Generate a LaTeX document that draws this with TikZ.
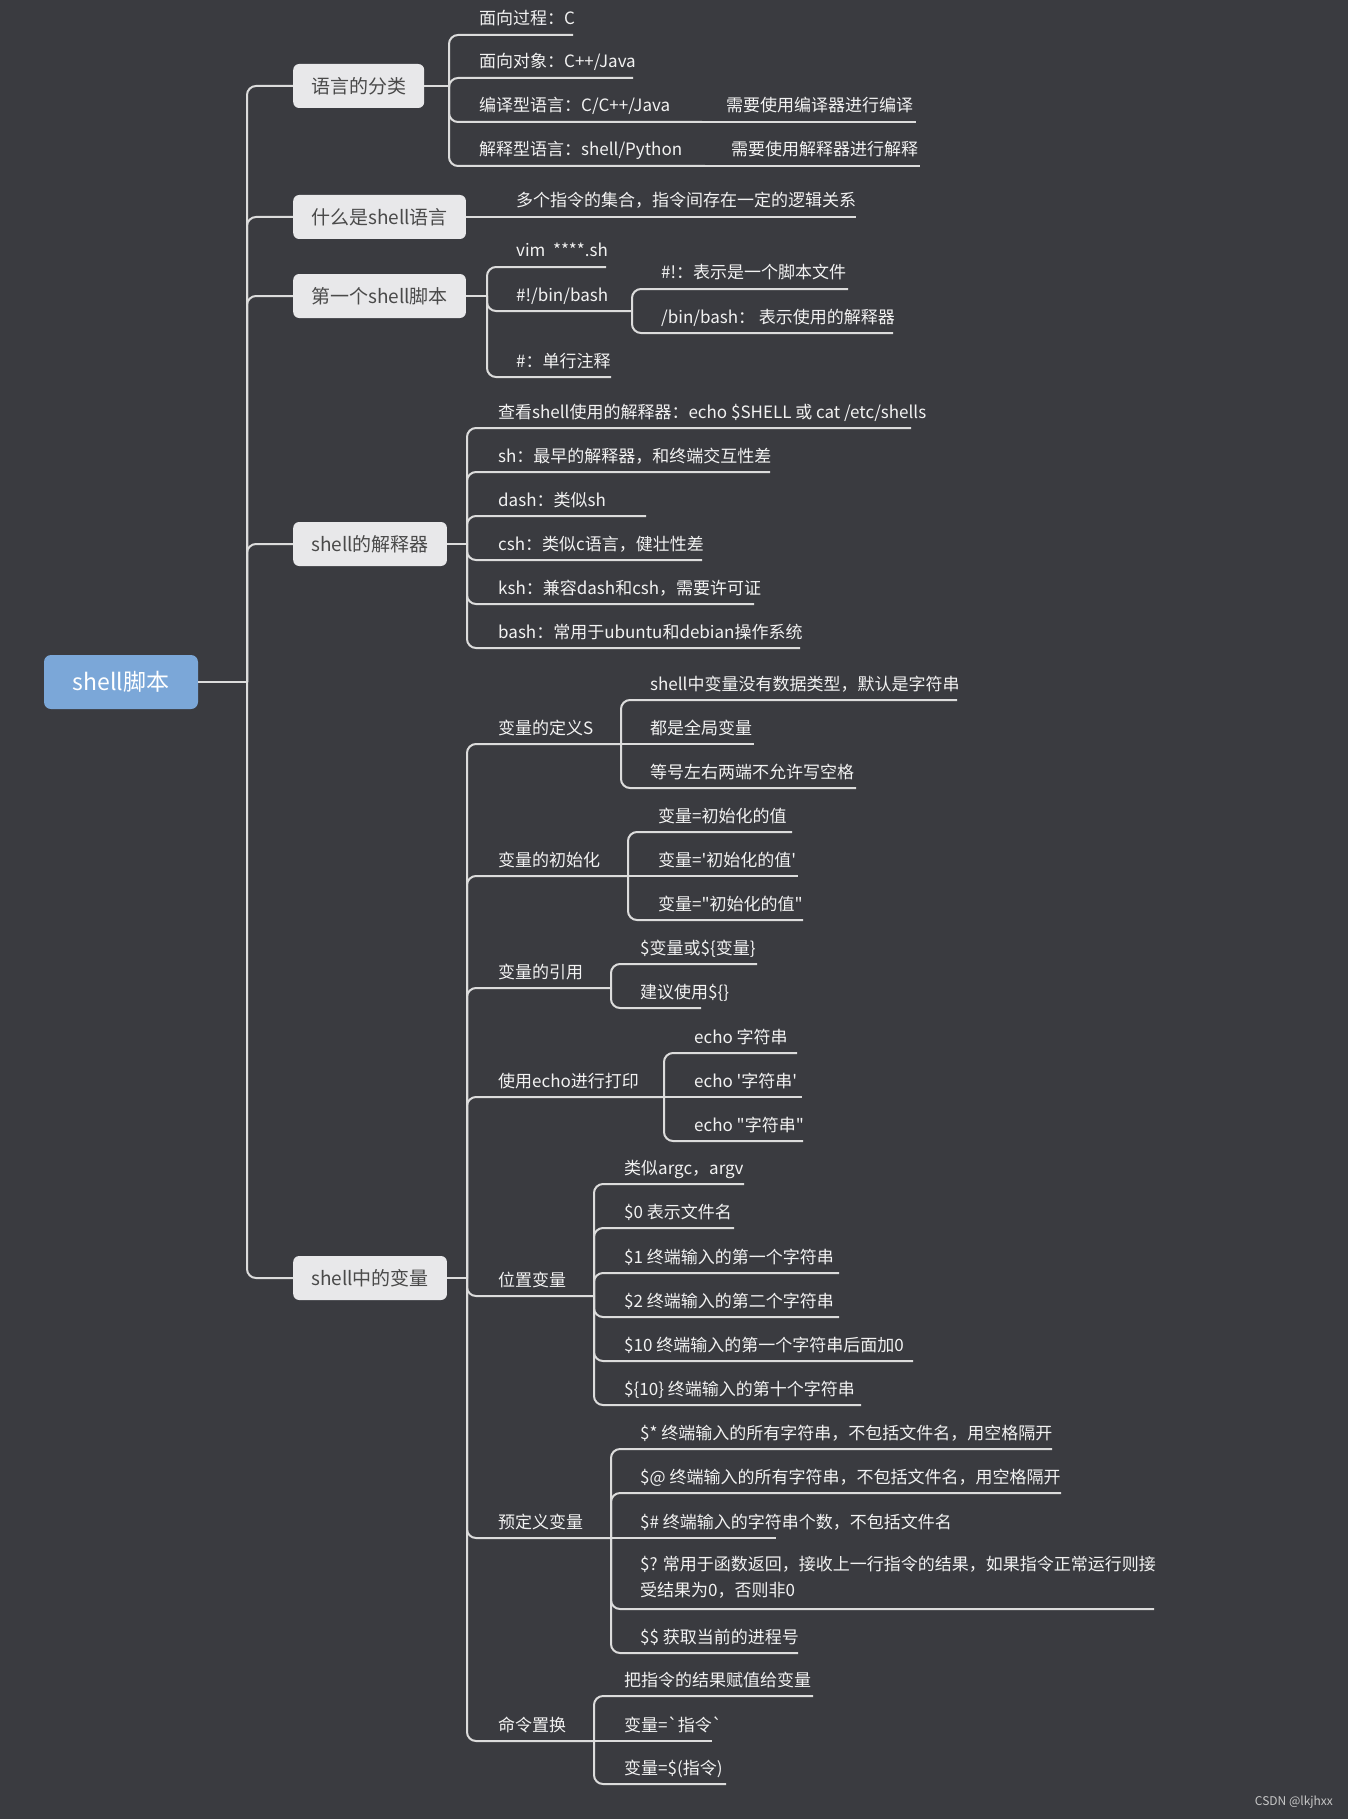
\documentclass[tikz,border=0pt]{standalone}
\usepackage{fontspec}
\newfontfamily\cjk{Noto Sans CJK SC}
\definecolor{bg}{HTML}{3A3B40}
\definecolor{linec}{HTML}{DCDCDC}
\definecolor{leafc}{HTML}{F2F2F2}
\definecolor{boxc}{HTML}{E8E8EA}
\definecolor{boxtext}{HTML}{4A4A4A}
\definecolor{rootc}{HTML}{7BA7D8}
\definecolor{markc}{HTML}{C8C8C8}
\newcommand\lf[5]{\node[leaf] (#1) at (#2,{#3-10}) {#5};\coordinate (e#1) at (#4,#3);}
\tikzset{
 conn/.style={draw=linec, line width=2pt, rounded corners=9pt},
 leaf/.style={anchor=base west, inner sep=0pt, text=leafc, font=\cjk\fontsize{17}{21}\selectfont},
 topic/.style={anchor=west, fill=boxc, text=boxtext, rounded corners=6pt, minimum height=44pt, inner xsep=18pt, inner ysep=0pt, font=\cjk\fontsize{19}{23}\selectfont},
 rootbox/.style={fill=rootc, text=white, rounded corners=7pt, minimum width=154pt, minimum height=54pt, font=\cjk\fontsize{23}{27}\selectfont},
}
\begin{document}
\begin{tikzpicture}[x=1pt,y=-1pt]
\useasboundingbox (0,0) rectangle (1348,1819);
\fill[bg] (0,0) rectangle (1348,1819);

% root and main topics
\node[rootbox] (root) at (121,682) {shell脚本};
\coordinate (tr) at (247,682);
\node[topic] (t1) at (293,86) {语言的分类};
\node[topic] (t2) at (293,217) {什么是shell语言};
\node[topic] (t3) at (293,296) {第一个shell脚本};
\node[topic] (t4) at (293,544) {shell的解释器};
\node[topic] (t5) at (293,1278) {shell中的变量};
\draw[conn] (root.east) -- (tr);
\foreach \t in {t1,t2,t3,t4,t5} \draw[conn] (tr) |- (\t.west);

% topic 1
\coordinate (b1) at (449,86);
\lf{l11}{479}{35}{573}{面向过程：C}
\lf{l12}{479}{78}{633}{面向对象：C++/Java}
\lf{l13}{479}{122}{702}{编译型语言：C/C++/Java}
\lf{l13a}{726}{122}{916}{需要使用编译器进行编译}
\lf{l14}{479}{166}{705}{解释型语言：shell/Python}
\lf{l14a}{731}{166}{920}{需要使用解释器进行解释}
\draw[conn] (t1.east) -- (b1);
\foreach \c in {l11,l12,l13,l14} \draw[conn] (b1) |- (e\c);
\draw[conn] (el13) -- (el13a);
\draw[conn] (el14) -- (el14a);

% topic 2
\lf{l21}{516}{217}{856}{多个指令的集合，指令间存在一定的逻辑关系}
\draw[conn] (t2.east) -- (el21);

% topic 3
\coordinate (b3) at (487,296);
\lf{l31}{516}{267}{606}{vim\ \ ****.sh}
\lf{l32}{516}{311}{632}{\#!/bin/bash}
\lf{l321}{661}{289}{848}{\#!：表示是一个脚本文件}
\lf{l322}{661}{333}{893}{/bin/bash：\ 表示使用的解释器}
\lf{l33}{516}{377}{611}{\#：单行注释}
\draw[conn] (t3.east) -- (b3);
\foreach \c in {l31,l32,l33} \draw[conn] (b3) |- (e\c);
\foreach \c in {l321,l322} \draw[conn] (el32) |- (e\c);

% topic 4
\coordinate (b4) at (467,544);
\lf{l41}{498}{428}{911}{查看shell使用的解释器：echo \$SHELL 或 cat /etc/shells}
\lf{l42}{498}{472}{770}{sh：最早的解释器，和终端交互性差}
\lf{l43}{498}{516}{646}{dash：类似sh}
\lf{l44}{498}{560}{702}{csh：类似c语言，健壮性差}
\lf{l45}{498}{604}{754}{ksh：兼容dash和csh，需要许可证}
\lf{l46}{498}{648}{800}{bash：常用于ubuntu和debian操作系统}
\draw[conn] (t4.east) -- (b4);
\foreach \c in {l41,l42,l43,l44,l45,l46} \draw[conn] (b4) |- (e\c);

% topic 5
\coordinate (b5) at (467,1278);
\draw[conn] (t5.east) -- (b5);
\lf{s1}{498}{744}{621}{变量的定义S}
\lf{s2}{498}{876}{628}{变量的初始化}
\lf{s3}{498}{988}{611}{变量的引用}
\lf{s4}{498}{1097}{664}{使用echo进行打印}
\lf{s5}{498}{1296}{594}{位置变量}
\lf{s6}{498}{1538}{611}{预定义变量}
\lf{s7}{498}{1741}{594}{命令置换}
\foreach \c in {s1,s2,s3,s4,s5,s6,s7} \draw[conn] (b5) |- (e\c);

\lf{v11}{650}{700}{957}{shell中变量没有数据类型，默认是字符串}
\lf{v12}{650}{744}{754}{都是全局变量}
\lf{v13}{650}{788}{856}{等号左右两端不允许写空格}
\draw[conn] (es1) |- (ev11);
\draw[conn] (es1) -- (ev12);
\draw[conn] (es1) |- (ev13);

\lf{v21}{658}{832}{792}{变量=初始化的值}
\lf{v22}{658}{876}{798}{变量='初始化的值'}
\lf{v23}{658}{920}{803}{变量="初始化的值"}
\draw[conn] (es2) |- (ev21);
\draw[conn] (es2) -- (ev22);
\draw[conn] (es2) |- (ev23);

\lf{v31}{640}{964}{757}{\$变量或\$\{变量\}}
\lf{v32}{640}{1008}{701}{建议使用\$\{\}}
\draw[conn] (es3) |- (ev31);
\draw[conn] (es3) |- (ev32);

\lf{v41}{694}{1053}{797}{echo 字符串}
\lf{v42}{694}{1097}{802}{echo '字符串'}
\lf{v43}{694}{1141}{803}{echo "字符串"}
\draw[conn] (es4) |- (ev41);
\draw[conn] (es4) -- (ev42);
\draw[conn] (es4) |- (ev43);

\lf{v51}{624}{1184}{744}{类似argc，argv}
\lf{v52}{624}{1228}{734}{\$0 表示文件名}
\lf{v53}{624}{1273}{839}{\$1 终端输入的第一个字符串}
\lf{v54}{624}{1317}{839}{\$2 终端输入的第二个字符串}
\lf{v55}{624}{1361}{913}{\$10 终端输入的第一个字符串后面加0}
\lf{v56}{624}{1405}{861}{\$\{10\} 终端输入的第十个字符串}
\foreach \c in {v51,v52,v53,v54,v55,v56} \draw[conn] (es5) |- (e\c);

\lf{v61}{640}{1449}{1052}{\$* 终端输入的所有字符串，不包括文件名，用空格隔开}
\lf{v62}{640}{1493}{1061}{\$@ 终端输入的所有字符串，不包括文件名，用空格隔开}
\lf{v63}{640}{1538}{776}{\$\# 终端输入的字符串个数，不包括文件名}
\node[leaf, anchor=north west, align=left, font=\cjk\fontsize{17}{26}\selectfont] (v64) at (640,1556) {\$? 常用于函数返回，接收上一行指令的结果，如果指令正常运行则接\\受结果为0，否则非0};
\coordinate (ev64) at (1154,1609);
\lf{v65}{640}{1653}{798}{\$\$ 获取当前的进程号}
\draw[conn] (es6) |- (ev61);
\draw[conn] (es6) |- (ev62);
\draw[conn] (es6) -- (ev63);
\draw[conn] (es6) |- (ev64);
\draw[conn] (es6) |- (ev65);

\lf{v71}{624}{1696}{813}{把指令的结果赋值给变量}
\lf{v72}{624}{1741}{712}{变量=`指令`}
\lf{v73}{624}{1784}{726}{变量=\$(指令)}
\draw[conn] (es7) |- (ev71);
\draw[conn] (es7) -- (ev72);
\draw[conn] (es7) |- (ev73);

\node[anchor=east, inner sep=0pt, text=markc, font=\cjk\fontsize{12}{14}\selectfont] (mark) at (1333,1802) {CSDN @lkjhxx};
\end{tikzpicture}
\end{document}
